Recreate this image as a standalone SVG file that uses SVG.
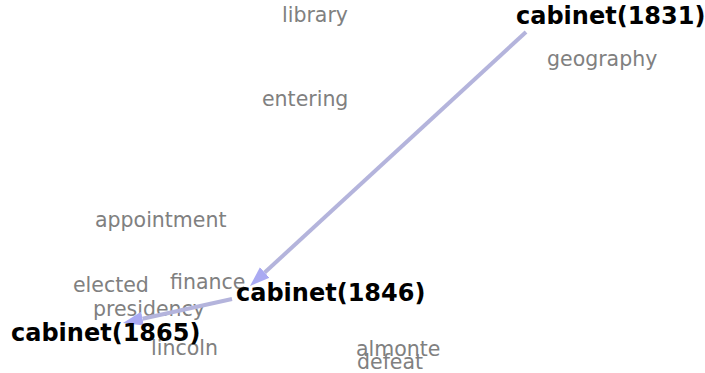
<svg xmlns="http://www.w3.org/2000/svg" width="705" height="373" viewBox="0 0 705 373">
<style>
.lbl{font-family:"DejaVu Sans",sans-serif;font-size:20.5px;fill:#808080}
.node{font-family:"DejaVu Sans",sans-serif;font-size:24px;font-weight:bold;fill:#000}
.edge{stroke:#b4b4dc;stroke-width:4;fill:none}
</style>
<defs>
<marker id="arr" markerUnits="userSpaceOnUse" markerWidth="20" markerHeight="16" refX="0" refY="8" orient="auto" viewBox="0 0 20 16">
<path d="M0,1 L20,8 L0,15 z" fill="#aaaaf2"/>
</marker>
</defs>
<rect width="705" height="373" fill="#fff"/>
<g id="labels">
<text class="lbl" x="282" y="22">library</text>
<text class="lbl" x="547" y="66">geography</text>
<text class="lbl" x="262" y="106">entering</text>
<text class="lbl" x="95" y="227">appointment</text>
<text class="lbl" x="73" y="292">elected</text>
<text class="lbl" x="170" y="289">finance</text>
<text class="lbl" x="93" y="316">presidency</text>
<text class="lbl" x="151" y="355">lincoln</text>
<text class="lbl" x="356" y="356">almonte</text>
<text class="lbl" x="357" y="369">defeat</text>
</g>
<g id="connectors">
<line class="edge" x1="526" y1="32" x2="264.7" y2="272.5" marker-end="url(#arr)"/>
<line class="edge" x1="232" y1="299" x2="142.5" y2="318.7" marker-end="url(#arr)"/>
</g>
<g id="node-1831"><text class="node" x="516" y="24">cabinet(1831)</text></g>
<g id="node-1846"><text class="node" x="236" y="301">cabinet(1846)</text></g>
<g id="node-1865"><text class="node" x="11" y="341">cabinet(1865)</text></g>
</svg>
